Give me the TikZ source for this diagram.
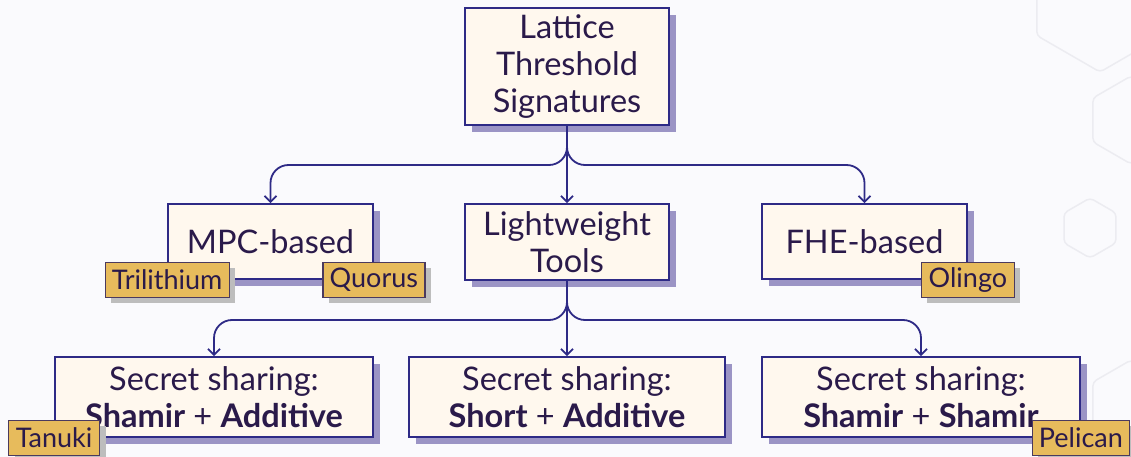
\documentclass[tikz,border=0pt]{standalone}
\usepackage{fontspec}
\setmainfont{Lato}
\usetikzlibrary{arrows.meta,shadows}
\definecolor{bg}{HTML}{FAFAFD}
\definecolor{boxc}{HTML}{2E2A86}
\definecolor{boxfill}{HTML}{FFF8EE}
\definecolor{shc}{HTML}{9B94C5}
\definecolor{txt}{HTML}{2A1A4A}
\definecolor{tagfill}{HTML}{E7BB5C}
\definecolor{tagb}{HTML}{4B3A5E}
\definecolor{tagsh}{HTML}{BDBDBD}
\definecolor{hexc}{HTML}{ECECF1}
\begin{document}
\begin{tikzpicture}[x=1pt,y=-1pt,
  box/.style={draw=boxc, line width=1.8pt, fill=boxfill, text=txt, align=center,
    font=\fontsize{32.5}{37}\selectfont, inner sep=0pt,
    drop shadow={shadow xshift=7pt, shadow yshift=-7pt, fill=shc, opacity=1}},
  tag/.style={draw=tagb, line width=1.2pt, fill=tagfill, text=txt,
    font=\fontsize{27}{30}\selectfont, inner sep=0pt, minimum height=35pt,
    drop shadow={shadow xshift=6pt, shadow yshift=-6pt, fill=tagsh, opacity=1}},
  conn/.style={draw=boxc, line width=1.8pt, rounded corners=18pt,
    -{Straight Barb[length=6pt,width=12pt]}},
  hex/.style={draw=hexc, line width=1.5pt, rounded corners=4pt}
]
\useasboundingbox (0,0) rectangle (1131,457);
\clip (0,0) rectangle (1131,457);
\fill[bg] (0,0) rectangle (1131,457);
% background hexagons
\draw[hex] (1100,-1) +(30:73) -- +(90:73) -- +(150:73) -- +(210:73) -- +(270:73) -- +(330:73) -- cycle;
\draw[hex] (1131,120) +(30:44) -- +(90:44) -- +(150:44) -- +(210:44) -- +(270:44) -- +(330:44) -- cycle;
\draw[hex] (1090,228) +(30:30) -- +(90:30) -- +(150:30) -- +(210:30) -- +(270:30) -- +(330:30) -- cycle;
\draw[hex] (1131,404) +(30:44) -- +(90:44) -- +(150:44) -- +(210:44) -- +(270:44) -- +(330:44) -- cycle;
% main boxes
\node[box, minimum width=204pt, minimum height=117pt] (top) at (567,66.5) {Lattice\\Threshold\\Signatures};
\node[box, minimum width=205pt, minimum height=75pt] (mpc) at (270.5,241.5) {MPC-based};
\node[box, minimum width=204pt, minimum height=76pt] (lt) at (567,242) {Lightweight\\Tools};
\node[box, minimum width=205pt, minimum height=75pt] (fhe) at (864.5,241.5) {FHE-based};
\node[box, minimum width=318pt, minimum height=80pt] (b1) at (214,397) {Secret sharing:\\\textbf{Shamir} + \textbf{Additive}};
\node[box, minimum width=316pt, minimum height=80pt] (b2) at (567,397) {Secret sharing:\\\textbf{Short} + \textbf{Additive}};
\node[box, minimum width=318pt, minimum height=80pt] (b3) at (921,397) {Secret sharing:\\\textbf{Shamir} + \textbf{Shamir}};
% tags
\node[tag, minimum width=124pt] (tri) at (mpc.south west) {Trilithium};
\node[tag, minimum width=102pt] (quo) at (mpc.south east) {Quorus};
\node[tag, minimum width=93pt] (oli) at (fhe.south east) {Olingo};
\node[tag, minimum width=91pt] (tan) at (b1.south west) {Tanuki};
\node[tag, minimum width=97pt] (pel) at (b3.south east) {Pelican};
% connectors
\coordinate (j1) at (567,165);
\coordinate (j2) at (567,320);
\draw[conn] (top.south) -- (j1) -| (mpc.north);
\draw[conn] (top.south) -- (j1) -| (fhe.north);
\draw[conn] (top.south) -- (lt.north);
\draw[conn] (lt.south) -- (j2) -| (b1.north);
\draw[conn] (lt.south) -- (j2) -| (b3.north);
\draw[conn] (lt.south) -- (b2.north);
\end{tikzpicture}
\end{document}
